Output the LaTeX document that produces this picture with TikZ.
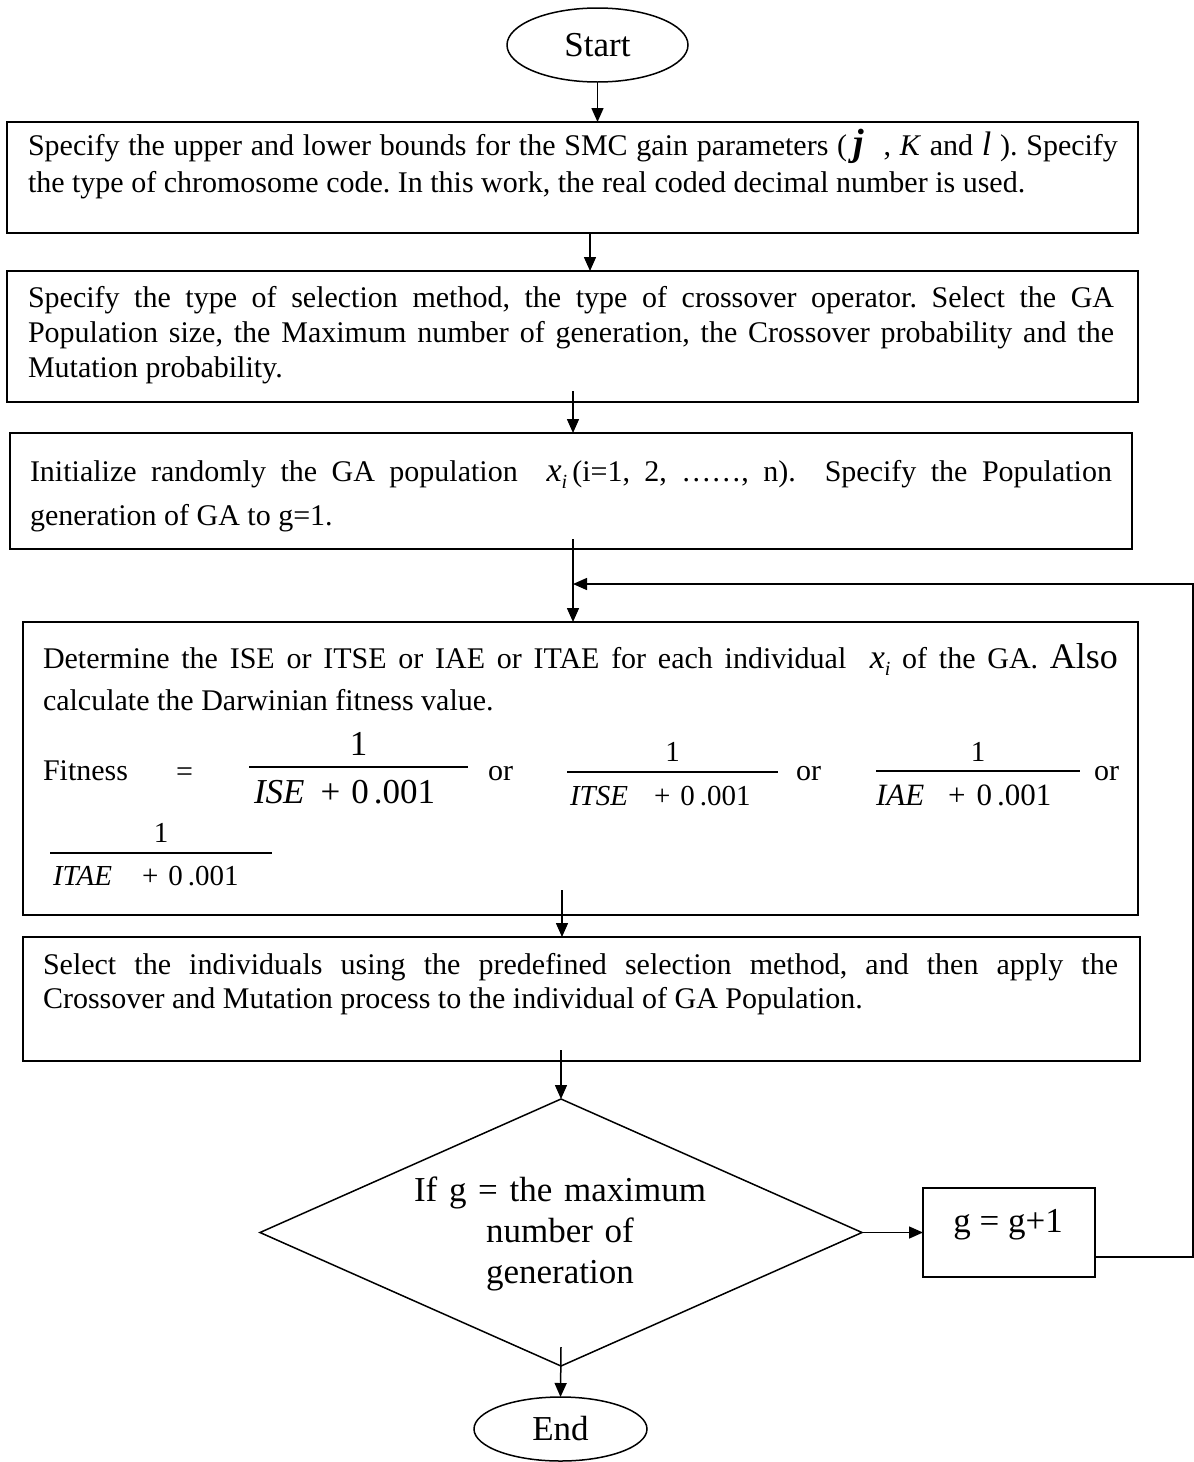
\documentclass[tikz,border=0pt]{standalone}
\usepackage{fontspec}
\setmainfont{Liberation Serif}
\usetikzlibrary{arrows.meta,shapes.geometric}
\frenchspacing
\newcommand{\xsub}{{\fontsize{34}{34}\selectfont\itshape x}\raisebox{-7pt}{\fontsize{20}{20}\selectfont\itshape i}}
\newcommand{\mybigj}{{\fontsize{38}{38}\selectfont\bfseries\itshape j}}
\newcommand{\mybigl}{{\fontsize{34}{34}\selectfont\itshape l}}
% denominator: name, gap1, gap2, gap3
\newcommand{\dn}[4]{\textit{#1}\hspace{#2}+\hspace{#3}0\hspace{#4}.001}
% fraction: width, kern above bar, kern below bar, num size, den size, numerator, denominator
\newcommand{\fr}[7]{\vbox{\hbox to #1{\hfil\smash{\fontsize{#4}{#4}\selectfont #6}\hfil}\kern#2\hrule height 1.5pt\kern#3\hbox to #1{\smash{\fontsize{#5}{#5}\selectfont #7}\hfil}}}
\begin{document}
\begin{tikzpicture}[x=1pt,y=-1pt,
  every node/.style={inner sep=0pt, outer sep=0pt},
  box/.style={draw, line width=1.5pt, rectangle, anchor=north west},
  txt/.style={anchor=base west, align=justify},
  big/.style={font=\fontsize{35}{41}\selectfont},
  arr/.style={-{Triangle[length=14pt,width=12pt]}, line width=1.5pt}]
\useasboundingbox (0,0) rectangle (1194,1462);

% terminals
\node[ellipse, draw, line width=1.5pt, minimum width=181pt, minimum height=74pt, big] (st) at (597.5,45) {Start};
\node[ellipse, draw, line width=1.5pt, minimum width=173pt, minimum height=64pt, big] (en) at (560.5,1429) {End};

% boxes
\node[box, minimum width=1131pt, minimum height=111pt] (b1) at (7,122) {};
\node[box, minimum width=1131pt, minimum height=131pt] (b2) at (7,271) {};
\node[box, minimum width=1122pt, minimum height=116pt] (b3) at (10,433) {};
\node[box, minimum width=1115pt, minimum height=293pt] (b4) at (23,622) {};
\node[box, minimum width=1117pt, minimum height=124pt] (b5) at (23,937) {};
\node[box, minimum width=172pt, minimum height=89pt] (g1) at (923,1188) {};
\node[diamond, draw, line width=1.5pt, minimum width=602pt, minimum height=267pt] (dm) at (561,1232.5) {};

% texts
\node[txt, text width=1090pt, font=\fontsize{30}{37}\selectfont] (t1) at (28,155)
 {Specify the upper and lower bounds for the SMC gain parameters (\hspace{6pt}\mybigj\hspace{20pt}, \textit{K} and \mybigl\ ). Specify\linebreak
  the type of chromosome code. In this work, the real coded decimal number is used.};
\node[txt, text width=1086pt, font=\fontsize{30}{35}\selectfont] (t2) at (28,307)
 {Specify the type of selection method, the type of crossover operator. Select the GA\linebreak
  Population size, the Maximum number of generation, the Crossover probability and the\linebreak
  Mutation probability.};
\node[txt, text width=1082pt, font=\fontsize{30}{44}\selectfont] (t3) at (30,481)
 {Initialize randomly the GA population\ \ \xsub\,(i=1, 2, ……, n).\ \ Specify the Population\linebreak
  generation of GA to g=1.};
\node[txt, text width=1075pt, font=\fontsize{30}{42}\selectfont] (t4) at (43,668)
 {Determine the ISE or ITSE or IAE or ITAE for each individual\ \ \xsub\ of the GA. {\fontsize{36}{36}\selectfont Also}\linebreak
  calculate the Darwinian fitness value.};
\node[txt, text width=1075pt, font=\fontsize{30}{34.5}\selectfont] (t5) at (43,974)
 {Select the individuals using the predefined selection method, and then apply the\linebreak
  Crossover and Mutation process to the individual of GA Population.};

% fitness formula
\node[anchor=base west, font=\fontsize{30}{30}\selectfont] (fw) at (43,780) {Fitness};
\node[anchor=base west, font=\fontsize{30}{30}\selectfont] (fq) at (176,781) {=};
\node[anchor=base west] (f1) at (249,803) {\fr{219pt}{11.25pt}{35.25pt}{35}{35}{1}{\hskip5pt\dn{ISE}{16pt}{11pt}{5pt}}};
\node[anchor=base west, font=\fontsize{30}{30}\selectfont] (o1) at (488,780) {or};
\node[anchor=base west] (f2) at (567,805) {\fr{211pt}{10.25pt}{32.25pt}{29}{29}{1}{\hskip3pt\dn{ITSE}{26pt}{10pt}{5pt}}};
\node[anchor=base west, font=\fontsize{30}{30}\selectfont] (o2) at (796,780) {or};
\node[anchor=base west] (f3) at (876,805) {\fr{204pt}{9.25pt}{33.25pt}{29}{31}{1}{\dn{IAE}{24pt}{11pt}{5pt}}};
\node[anchor=base west, font=\fontsize{30}{30}\selectfont] (o3) at (1094,780) {or};
\node[anchor=base west] (f4) at (50,885) {\fr{222pt}{10.25pt}{31.25pt}{29}{29}{1}{\hskip3pt\dn{ITAE}{30pt}{10pt}{5pt}}};

% decision texts
\node[anchor=base, text width=340pt, align=center, big] (dt) at (560,1201)
 {If g = the maximum\\ number of\\ generation};
\node[anchor=base, big] (gt) at (1008,1232) {g = g+1};

% connector points
\coordinate (p2) at (590,233);
\coordinate (p3) at (573,391);
\coordinate (p4) at (573,539);
\coordinate (p5) at (562,890);
\coordinate (p6) at (561,1050);
\coordinate (p8) at (561,1347);
\coordinate (q1) at (1193,1257);
\coordinate (q2) at (1193,584);

% connectors
\draw[arr] (st.south) -- (st.south |- b1.north);
\draw[arr] (p2) -- (p2 |- b2.north);
\draw[arr] (p3) -- (p3 |- b3.north);
\draw[arr] (p4) -- (p4 |- b4.north);
\draw[arr] (p5) -- (p5 |- b5.north);
\draw[arr] (p6) -- (dm.north);
\draw[arr] (dm.east) -- (g1.west |- dm.east);
\draw[arr] (p8) -- (en.north);
\draw[arr] (g1.east |- q1) -- (q1) -- (q2) -- (p4 |- q2);
\end{tikzpicture}
\end{document}
